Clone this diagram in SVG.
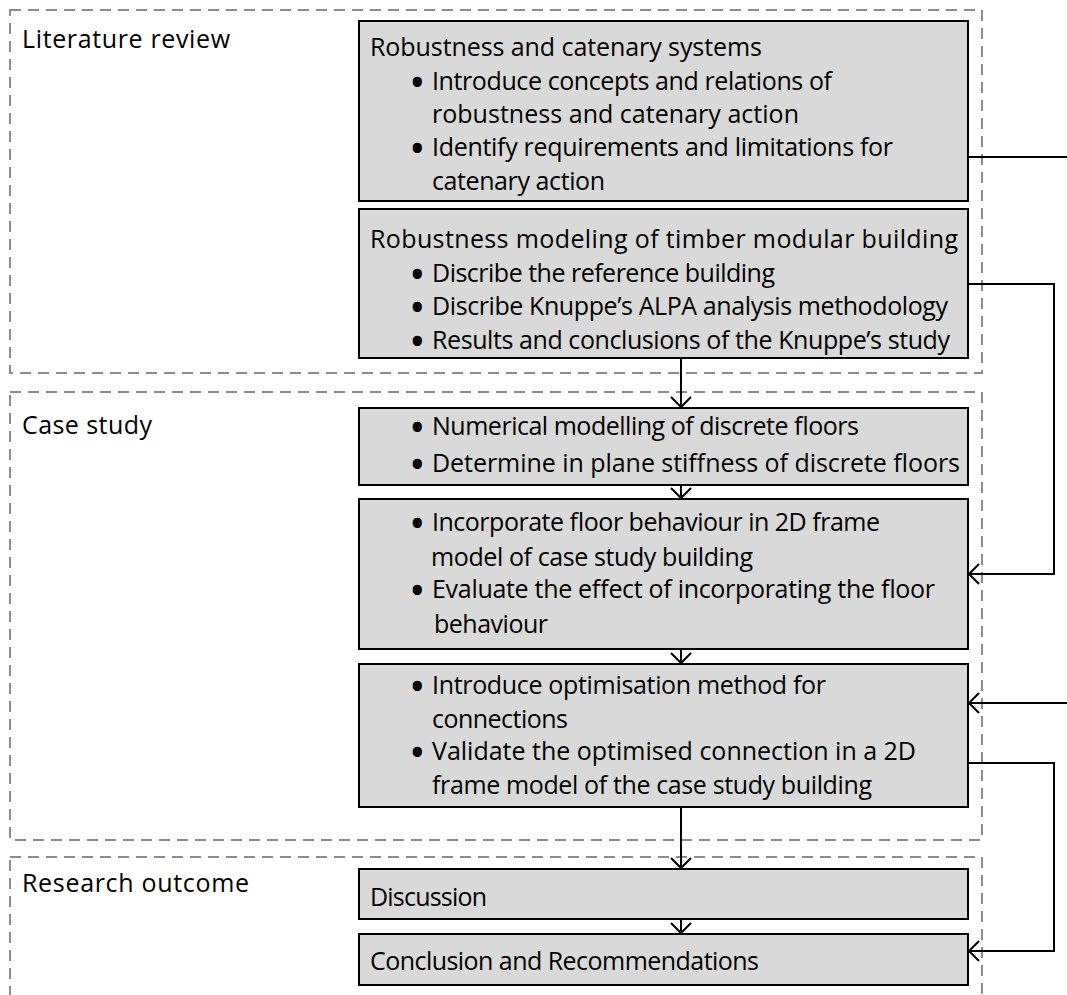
<svg xmlns="http://www.w3.org/2000/svg" width="1067" height="995" viewBox="0 0 1067 995">
<defs>
<style>
.grp{fill:none;stroke:#8c8c8c;stroke-width:2;stroke-dasharray:11 7}
.box{fill:#d9d9d9;stroke:#000;stroke-width:2}
.t{font-family:"Open Sans","Noto Sans",sans-serif;font-size:25px;fill:#000}
.b{font-family:"Open Sans","Noto Sans",sans-serif;font-size:44px;fill:#000}
.c{fill:none;stroke:#000;stroke-width:2}
</style>
<marker id="ah" markerUnits="userSpaceOnUse" markerWidth="24" markerHeight="24" viewBox="-12 -12 24 24" refX="0" refY="0" orient="auto">
<path d="M-10,-10 L0,0 L-10,10" fill="none" stroke="#000" stroke-width="2"/>
</marker>
</defs>
<rect width="1067" height="995" fill="#fff"/>

<g id="group-literature">
<rect class="grp" x="10" y="10" width="972" height="363"/>
<text class="t" x="22" y="48" textLength="208">Literature review</text>
</g>
<g id="group-case">
<rect class="grp" x="10" y="392" width="972" height="448"/>
<text class="t" x="22" y="434" textLength="130">Case study</text>
</g>
<g id="group-outcome">
<rect class="grp" x="10" y="857" width="972" height="160"/>
<text class="t" x="22" y="892" textLength="227">Research outcome</text>
</g>

<g id="node-robustness">
<rect class="box" x="359" y="21" width="609" height="180"/>
<text class="t" x="370" y="56" textLength="392">Robustness and catenary systems</text>
<text class="b" x="409" y="97.5">•</text>
<text class="t" x="432" y="90" textLength="400">Introduce concepts and relations of</text>
<text class="t" x="432" y="123" textLength="367">robustness and catenary action</text>
<text class="b" x="409" y="163.5">•</text>
<text class="t" x="432" y="156" textLength="461">Identify requirements and limitations for</text>
<text class="t" x="432" y="190" textLength="173">catenary action</text>
</g>

<g id="node-modeling">
<rect class="box" x="359" y="209" width="609" height="149"/>
<text class="t" x="370" y="248" textLength="588">Robustness modeling of timber modular building</text>
<text class="b" x="409" y="289.5">•</text>
<text class="t" x="432" y="282" textLength="343">Discribe the reference building</text>
<text class="b" x="409" y="322.5">•</text>
<text class="t" x="432" y="315" textLength="516">Discribe Knuppe’s ALPA analysis methodology</text>
<text class="b" x="409" y="356.5">•</text>
<text class="t" x="432" y="349" textLength="518">Results and conclusions of the Knuppe’s study</text>
</g>

<g id="node-numerical">
<rect class="box" x="359" y="408" width="609" height="77"/>
<text class="b" x="409" y="442.5">•</text>
<text class="t" x="432" y="435" textLength="427">Numerical modelling of discrete floors</text>
<text class="b" x="409" y="479.5">•</text>
<text class="t" x="432" y="472" textLength="528">Determine in plane stiffness of discrete floors</text>
</g>

<g id="node-incorporate">
<rect class="box" x="359" y="499" width="609" height="150"/>
<text class="b" x="409" y="538.5">•</text>
<text class="t" x="432" y="531" textLength="448">Incorporate floor behaviour in 2D frame</text>
<text class="t" x="431" y="566" textLength="322">model of case study building</text>
<text class="b" x="409" y="605.5">•</text>
<text class="t" x="432" y="598" textLength="503">Evaluate the effect of incorporating the floor</text>
<text class="t" x="434" y="633" textLength="114">behaviour</text>
</g>

<g id="node-optimisation">
<rect class="box" x="359" y="664" width="609" height="143"/>
<text class="b" x="409" y="701.5">•</text>
<text class="t" x="432" y="694" textLength="394">Introduce optimisation method for</text>
<text class="t" x="432" y="728" textLength="136">connections</text>
<text class="b" x="409" y="767.5">•</text>
<text class="t" x="432" y="760" textLength="484">Validate the optimised connection in a 2D</text>
<text class="t" x="432" y="794" textLength="440">frame model of the case study building</text>
</g>

<g id="node-discussion">
<rect class="box" x="359" y="869" width="609" height="50"/>
<text class="t" x="370" y="906" textLength="117">Discussion</text>
</g>

<g id="node-conclusion">
<rect class="box" x="359" y="934" width="609" height="51"/>
<text class="t" x="370" y="970" textLength="389">Conclusion and Recommendations</text>
</g>

<g id="connectors">
<path class="c" d="M968,157 H1067"/>
<path class="c" d="M1067,703 H969" marker-end="url(#ah)"/>
<path class="c" d="M968,284 H1054 V574 H969" marker-end="url(#ah)"/>
<path class="c" d="M681,358 V407" marker-end="url(#ah)"/>
<path class="c" d="M681,485 V498" marker-end="url(#ah)"/>
<path class="c" d="M681,649 V663" marker-end="url(#ah)"/>
<path class="c" d="M681,807 V868" marker-end="url(#ah)"/>
<path class="c" d="M681,919 V933" marker-end="url(#ah)"/>
<path class="c" d="M968,763 H1054 V951 H969" marker-end="url(#ah)"/>
</g>
</svg>
